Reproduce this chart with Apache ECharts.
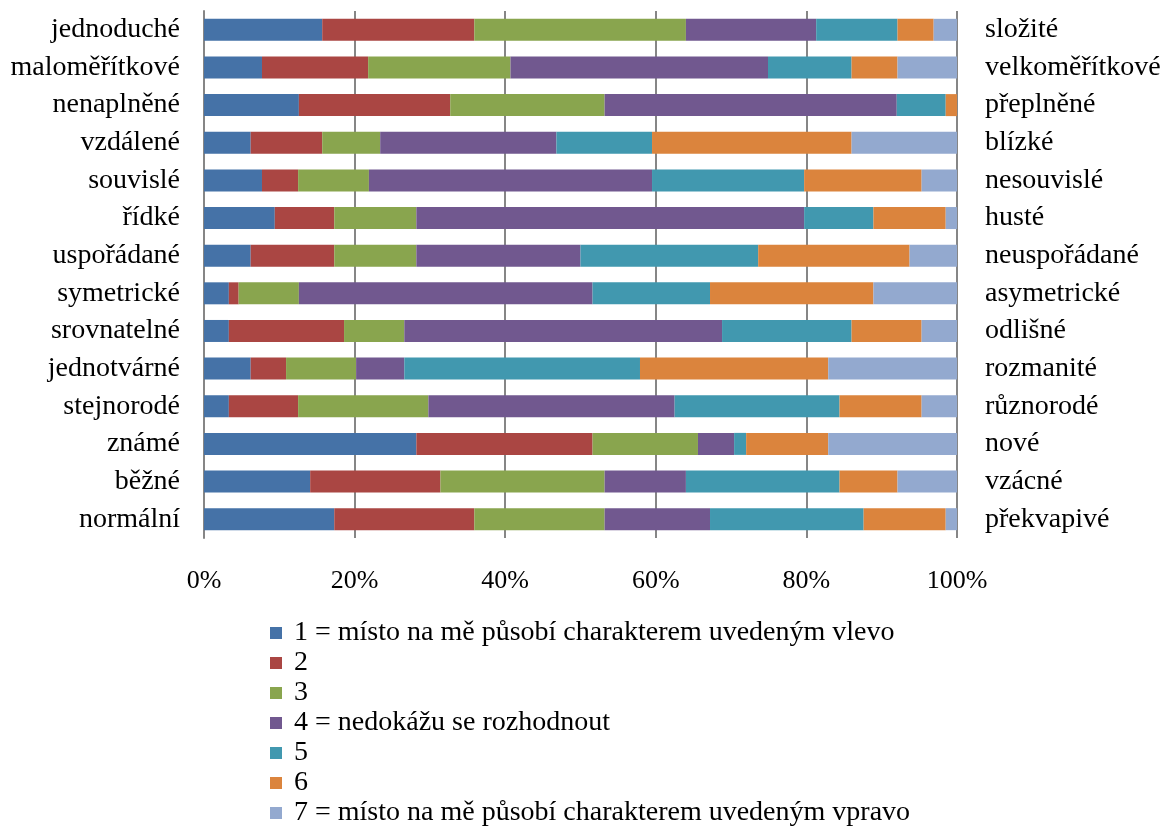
<!DOCTYPE html>
<html>
<head>
<meta charset="utf-8">
<script src="https://cdn.jsdelivr.net/npm/echarts@6/dist/echarts.min.js"></script>
<style>
html,body{margin:0;padding:0;background:#fff;}
#chart{width:1162px;height:828px;}
</style>
</head>
<body>
<div id="chart"></div>
<script>
const leftLabels = ['jednoduché','maloměřítkové','nenaplněné','vzdálené','souvislé','řídké','uspořádané','symetrické','srovnatelné','jednotvárné','stejnorodé','známé','běžné','normální'];
const rightLabels = ['složité','velkoměřítkové','přeplněné','blízké','nesouvislé','husté','neuspořádané','asymetrické','odlišné','rozmanité','různorodé','nové','vzácné','překvapivé'];
const seriesNames = ['1 = místo na mě působí charakterem uvedeným vlevo','2','3','4 = nedokážu se rozhodnout','5','6','7 = místo na mě působí charakterem uvedeným vpravo'];
const s1 = [15.7,7.7,12.6,6.2,7.7,9.4,6.2,3.3,3.3,6.2,3.3,28.2,14.1,17.3];
const s2 = [20.2,14.1,20.1,9.5,4.8,7.9,11.1,1.3,15.3,4.7,9.2,23.4,17.3,18.6];
const s3 = [28.1,18.9,20.5,7.7,9.4,10.9,10.9,8.0,8.0,9.3,17.3,14.0,21.8,17.3];
const s4 = [17.3,34.2,38.8,23.4,37.6,51.5,21.8,39.0,42.2,6.4,32.7,4.8,10.8,14.0];
const s5 = [10.8,11.1,6.5,12.7,20.2,9.2,23.6,15.6,17.2,31.3,21.9,1.6,20.4,20.4];
const s6 = [4.8,6.1,1.5,26.5,15.6,9.6,20.1,21.7,9.3,25.0,10.9,10.9,7.7,10.9];
const s7 = [3.1,7.9,0,14.0,4.7,1.5,6.3,11.1,4.7,17.1,4.7,17.1,7.9,1.5];
const colors = ['#4572A7','#AA4643','#89A54E','#71588F','#4198AF','#DB843D','#93A9CF'];

const allData = [s1,s2,s3,s4,s5,s6,s7];
const font = 'Liberation Serif';
const chart = echarts.init(document.getElementById('chart'));
chart.setOption({
  animation:false,
  color: colors,
  textStyle:{fontFamily:font, color:'#000'},
  grid:{left:204,right:205,top:11,bottom:290,containLabel:false,outerBoundsMode:'none'},
  xAxis:{
    type:'value', min:0, max:100, interval:20,
    axisLabel:{formatter:'{value}%', fontFamily:font, fontSize:26, color:'#000', margin:30},
    axisLine:{show:false}, axisTick:{show:false},
    splitLine:{show:true, lineStyle:{color:'#868686', width:2}}
  },
  yAxis:[{
    type:'category', data:leftLabels, inverse:true, position:'left',
    axisLabel:{fontFamily:font, fontSize:28, color:'#000', margin:24},
    axisLine:{show:true, lineStyle:{color:'#868686', width:2}},
    axisTick:{show:false}
  },{
    type:'category', data:rightLabels, inverse:true, position:'right',
    axisLabel:{fontFamily:font, fontSize:28, color:'#000', margin:28},
    axisLine:{show:false}, axisTick:{show:false}
  }],
  legend:{
    orient:'vertical', left:270, top:619, height:209,
    itemWidth:12, itemHeight:12, itemGap:2,
    icon:'rect', padding:0,
    formatter: name => ' ' + name,
    textStyle:{fontFamily:font, fontSize:28, color:'#000', lineHeight:28},
    data: seriesNames
  },
  series: allData.map((d,i)=>({
    name: seriesNames[i], type:'bar', stack:'total', yAxisIndex:0,
    barWidth:22, data:d,
    itemStyle:{color:colors[i]}
  }))
});
</script>
</body>
</html>
